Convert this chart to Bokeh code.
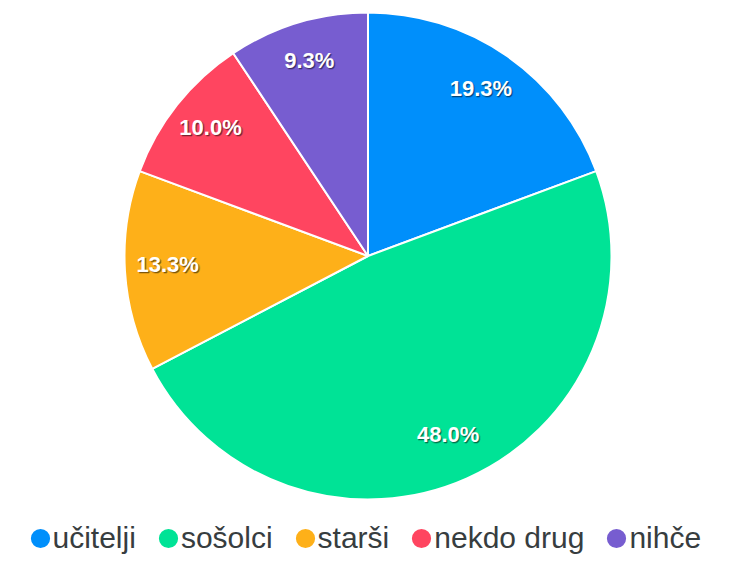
import math
from bokeh.plotting import figure
from bokeh.models import Range1d, ColumnDataSource, Legend, LegendItem
from bokeh.core.properties import value
from bokeh.embed import file_html
from bokeh.resources import INLINE

# ---- data ----
categories = ["učitelji", "sošolci", "starši", "nekdo drug", "nihče"]
counts = [29, 72, 20, 15, 14]
colors = ["#008FFB", "#00E396", "#FEB019", "#FF4560", "#775DD0"]

# ---- layout ----
W, H = 727, 558
cx, cy, R = 367.5, 302.5, 243.5
label_r = 0.82 * R

total = sum(counts)
starts, ends, lx, ly, labels = [], [], [], [], []
cum = 0.0
for c in counts:
    a0 = math.pi / 2 - 2 * math.pi * cum / total
    cum += c
    a1 = math.pi / 2 - 2 * math.pi * cum / total
    starts.append(a0)
    ends.append(a1)
    mid = (a0 + a1) / 2
    lx.append(cx + label_r * math.cos(mid))
    ly.append(cy + label_r * math.sin(mid))
    labels.append(f"{c / total * 100:.1f}%")

src = ColumnDataSource(dict(cat=categories, start=starts, end=ends, color=colors,
                            lx=lx, ly=ly, lab=labels))

p = figure(width=W, height=H, x_range=Range1d(0, W), y_range=Range1d(0, H),
           output_backend="svg", toolbar_location=None, min_border=0)
p.axis.visible = False
p.grid.visible = False
p.outline_line_color = None

p.wedge(x=cx, y=cy, radius=R, start_angle="start", end_angle="end", direction="clock",
        fill_color="color", line_color="white", line_width=2, source=src)

# data labels with a soft shadow
lift = -4
for dx, dy, a in [(1, 1, 0.35), (2, 1, 0.15), (1, 2, 0.15)]:
    p.text(x="lx", y="ly", text="lab", source=src, x_offset=dx - 1, y_offset=dy + lift,
           text_font=value("Liberation Sans"), text_font_style="bold", text_font_size="22px",
           text_color="black", text_alpha=a, text_align="center", text_baseline="middle")
p.text(x="lx", y="ly", text="lab", source=src, x_offset=-1, y_offset=lift,
       text_font=value("Liberation Sans"), text_font_style="bold", text_font_size="22px",
       text_color="white", text_align="center", text_baseline="middle")

# legend markers: circles drawn off-frame, shown only in legend
sc = p.ellipse(x=-100, y=-100, width=1, height=1, fill_color="color",
               line_color=None, source=src)

items = [LegendItem(label=categories[i], renderers=[sc], index=i) for i in range(len(categories))]
legend = Legend(items=items, orientation="horizontal", location=(27.5, 3),
                glyph_width=24, glyph_height=24, label_standoff=1, spacing=20,
                padding=0, margin=0, border_line_color=None, background_fill_alpha=0,
                label_text_font="Liberation Sans", label_text_font_size="30px",
                label_text_color="#373d3f", label_height=24)
p.add_layout(legend)

open("out.html", "w").write(file_html(p, INLINE))
